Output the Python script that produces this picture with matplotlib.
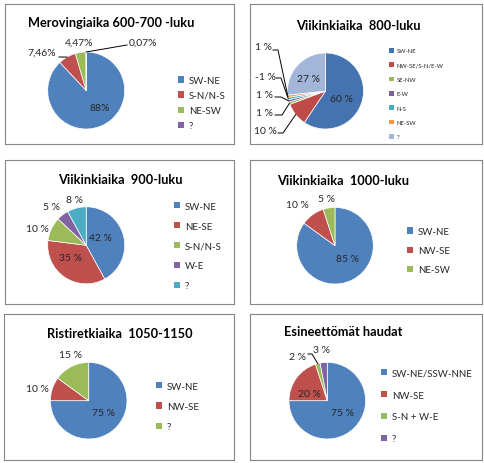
import numpy as np
import matplotlib.pyplot as plt

W, H = 485, 464
plt.rcParams['font.family'] = ['Lato', 'DejaVu Sans']

# Office 2007 palette
BLUE, RED, GREEN, PURPLE, TEAL = '#4F81BD', '#C0504D', '#9BBB59', '#8064A2', '#4BACC6'
P2_COLORS = ['#4473B0', '#BE4B48', '#98B954', '#7D60A0', '#46AAC5', '#F79646', '#A2B6DA']
TEXT = '#262626'

# --- data ---
mero_title = 'Merovingiaika 600-700 -luku'
mero_names = ['SW-NE', 'S-N/N-S', 'NE-SW', '?']
mero_values = [88.0, 7.46, 4.47, 0.07]
mero_labels = ['88%', '7,46%', '4,47%', '0,07%']

v800_title = 'Viikinkiaika  800-luku'
v800_names = ['SW-NE', 'NW-SE/S-N/E-W', 'SE-NW', 'E-W', 'N-S', 'NE-SW', '?']
v800_values = [60, 10, 1, 1, 1, 1, 27]
v800_labels = ['60 %', '10 %', '1 %', '1 %', '-1 %', '1 %', '27 %']

v900_title = 'Viikinkiaika  900-luku'
v900_names = ['SW-NE', 'NE-SE', 'S-N/N-S', 'W-E', '?']
v900_values = [42, 35, 10, 5, 8]
v900_labels = ['42 %', '35 %', '10 %', '5 %', '8 %']

v1000_title = 'Viikinkiaika  1000-luku'
v1000_names = ['SW-NE', 'NW-SE', 'NE-SW']
v1000_values = [85, 10, 5]
v1000_labels = ['85 %', '10 %', '5 %']

risti_title = 'Ristiretkiaika  1050-1150'
risti_names = ['SW-NE', 'NW-SE', '?']
risti_values = [75, 10, 15]
risti_labels = ['75 %', '10 %', '15 %']

esine_title = 'Esineettömät haudat'
esine_names = ['SW-NE/SSW-NNE', 'NW-SE', 'S-N + W-E', '?']
esine_values = [75, 20, 2, 3]
esine_labels = ['75 %', '20 %', '2 %', '3 %']

fig = plt.figure(figsize=(W / 100, H / 100), dpi=100)


def draw_panel(box, title, title_xy, names, values, labels, colors, center, radius,
               label_xy, leaders, legend_xy, legend_size, legend_spacing, handle=0.6):
    # positions are given in image pixels (origin top-left)
    x0, y0, x1, y1 = box
    ax = fig.add_axes([x0 / W, 1 - y1 / H, (x1 - x0) / W, (y1 - y0) / H])

    def loc(x, y):
        return x - x0, y1 - y

    wedges, _ = ax.pie(values, colors=colors, startangle=90, counterclock=False,
                       radius=radius, center=loc(*center),
                       wedgeprops=dict(edgecolor='white', linewidth=0.5))
    ax.set_xlim(0, x1 - x0)
    ax.set_ylim(0, y1 - y0)
    ax.set_aspect('auto')
    ax.set_frame_on(True)
    for sp in ax.spines.values():
        sp.set_color('#868686')
        sp.set_linewidth(0.8)

    ax.text(*loc(*title_xy), title, ha='center', va='baseline',
            fontsize=9.2, fontweight='bold', color='black')

    for s, xy in zip(labels, label_xy):
        ax.text(*loc(*xy), s, ha='center', va='center', fontsize=7.5, color=TEXT)

    # leader lines: label -> shoulder -> wedge edge
    for i, start, shoulder in leaders:
        w = wedges[i]
        ang = np.deg2rad((w.theta1 + w.theta2) / 2)
        ex = w.center[0] + w.r * np.cos(ang)
        ey = w.center[1] + w.r * np.sin(ang)
        sx, sy = loc(*start)
        hx, hy = loc(*shoulder)
        ax.plot([sx, hx, ex], [sy, hy, ey], color='black', lw=0.7)

    leg = ax.legend(wedges, names, loc='center left', bbox_to_anchor=loc(*legend_xy),
                    bbox_transform=ax.transData, frameon=False, fontsize=legend_size,
                    handlelength=handle, handleheight=handle, handletextpad=0.5,
                    labelspacing=legend_spacing, borderpad=0, borderaxespad=0,
                    labelcolor=TEXT)
    for hp in leg.get_patches():
        hp.set_edgecolor('none')
    return ax


draw_panel((5, 5, 234, 145), mero_title, (111, 27), mero_names, mero_values, mero_labels,
           [BLUE, RED, GREEN, PURPLE], (86.2, 91.5), 38.5,
           [(99.7, 108.3), (42, 52.8), (78.7, 43.3), (143.3, 43.3)],
           [(1, (59, 58), (62, 58)), (3, (127, 46), (127, 46))],
           (178, 104), 7, 0.62)

draw_panel((250, 5, 482, 145), v800_title, (358.5, 30), v800_names, v800_values, v800_labels,
           P2_COLORS, (325.5, 92), 38,
           [(341.7, 100), (265.8, 131), (265, 113.5), (265, 96), (265, 77.5), (263.5, 47.5), (308.3, 80)],
           [(5, (273, 51), (278, 51)), (4, (276, 79), (281, 79)), (3, (275, 98), (281, 98)),
            (2, (275, 116), (282, 116)), (1, (278, 134), (283, 134))],
           (389, 94.7), 4.3, 1.5, handle=0.8)

draw_panel((5, 161, 234, 305), v900_title, (120, 184), v900_names, v900_values, v900_labels,
           [BLUE, RED, GREEN, PURPLE, TEAL], (86.2, 246.3), 38.5,
           [(100.8, 238.3), (70.5, 258.3), (37.2, 230), (51.7, 207.8), (74.7, 200.3)],
           [], (174, 247), 7, 1.12)

draw_panel((250, 161, 482, 305), v1000_title, (343, 185), v1000_names, v1000_values, v1000_labels,
           [BLUE, RED, GREEN], (335, 246.7), 38.3,
           [(347.8, 260), (297.8, 206), (327, 199.7)],
           [], (407, 251.7), 7, 1.05)

draw_panel((4, 315, 234, 461), risti_title, (120, 338), risti_names, risti_values, risti_labels,
           [BLUE, RED, GREEN], (88.7, 401.7), 38.3,
           [(103.3, 413.7), (37.2, 389.7), (70.5, 356)],
           [], (156, 407.5), 7, 1.15)

draw_panel((250, 315, 482, 461), esine_title, (343.5, 336), esine_names, esine_values, esine_labels,
           [BLUE, RED, GREEN, PURPLE], (327.3, 401.7), 38.3,
           [(342.5, 414), (309, 394.5), (297.5, 357.5), (321.7, 351)],
           [(2, (308, 355), (312, 355))],
           (381, 407), 7, 1.32)

fig.savefig('out.png', dpi=100, facecolor='white')
